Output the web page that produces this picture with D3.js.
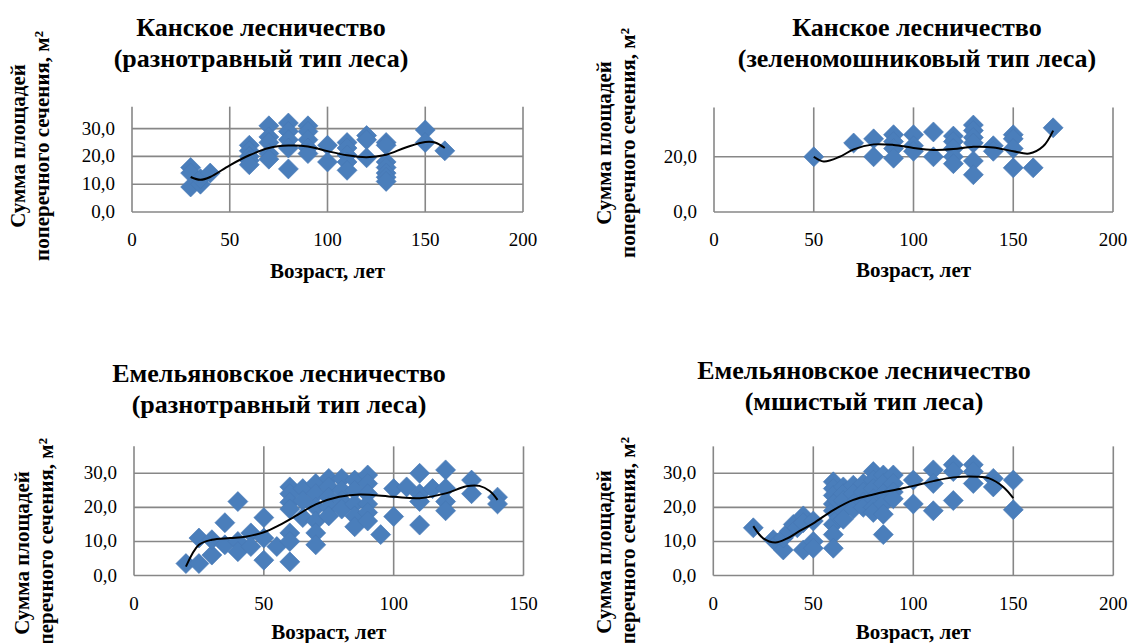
<!DOCTYPE html>
<html>
<head>
<meta charset="utf-8">
<title>Сумма площадей поперечного сечения</title>
<script src="https://d3js.org/d3.v7.min.js"></script>
<style>
  body { margin: 0; background: #fff; }
  svg text { font-family: "Liberation Serif", "Times New Roman", serif; fill: #000; }
</style>
</head>
<body>
<svg width="1134" height="643"></svg>
<script>
// ---- data: [age, sum of cross-section area] ----
var kanRazn = [[30,16],[30,14],[30,9],[35,10],[35,12],[40,14],
  [60,24],[60,22],[60,20],[60,18.5],[60,17],
  [70,31],[70,27],[70,25],[70,21],[70,19],
  [80,32],[80,29],[80,26],[80,23],[80,15.5],
  [90,31],[90,29],[90,26],[90,23],[90,21],
  [100,24],[100,18],
  [110,25],[110,23],[110,20.5],[110,18],[110,15],
  [120,27.5],[120,26],[120,19.5],
  [130,25],[130,24],[130,18],[130,16],[130,14],[130,12.5],[130,11],
  [150,29.5],[150,25],[160,22]];
var kanRaznTrend = [[30,12.6],[35,11.6],[40,12.6],[50,16.8],[60,20.4],[70,23],[80,23.9],[90,23.6],
  [100,21.9],[110,20.4],[120,19.7],[130,20.6],[140,23.2],[150,25.2],[155,25],[160,23]];

var kanZel = [[50,20],[70,25],[80,26.5],[80,20],[90,28],[90,25.5],[90,23],[90,19.5],
  [100,28],[100,24],[100,22],[110,29],[110,20],
  [120,27.5],[120,25.5],[120,23],[120,20],[120,17.5],
  [130,31.5],[130,29.5],[130,27],[130,25],[130,18.5],[130,13.5],
  [140,24],[140,22],[150,28],[150,26.5],[150,23],[150,16],[160,16],[170,30.5]];
var kanZelTrend = [[50,20],[55,18.3],[63,20],[70,22.7],[80,24.5],[90,24.3],[100,23.2],[110,22.5],
  [120,22.8],[130,23.6],[140,23.4],[150,22],[158,21.2],[165,23.8],[170,29.5]];

var emRazn = [[20,3.5],[25,3.5],[25,11],[30,6],[30,10.5],[35,15.5],[35,9],[40,21.7],[40,10],[40,7],
  [45,12.5],[45,8.5],[50,17],[50,11],[50,4.5],[55,8.5],
  [60,26],[60,24],[60,21.5],[60,19.5],[60,12.5],[60,10],[60,4],
  [65,25.5],[65,22],[65,17],
  [70,27],[70,24],[70,20],[70,16],[70,12.5],[70,9],
  [75,28.5],[75,26],[75,23],[75,20],[75,17.5],
  [80,28.5],[80,25],[80,22],[80,19.5],
  [85,28],[85,25],[85,21],[85,17.5],[85,14.3],
  [90,29.5],[90,27],[90,24],[90,21],[90,18.5],[90,16],
  [95,12],[100,25.5],[100,17.3],[105,26],[110,30],[110,24],[110,21.7],[110,14.8],[115,25.5],
  [120,31],[120,25.6],[120,21.7],[120,19],[130,28],[130,24],[140,23],[140,21]];
var emRaznTrend = [[20,2.6],[25,9],[30,10.5],[37,11],[43,11.4],[50,12.7],[56,14.8],[63,17.8],[70,20.9],
  [79,23.1],[87,23.8],[100,23.1],[110,22.7],[120,24.1],[128,26.2],[133,26.3],[137,24.8],[140,22.2]];

var emMsh = [[20,14],[30,10.5],[32,9.5],[35,7.5],[35,11],[38,13],[40,15],[42,14],[45,17.5],[45,15.5],[45,7.5],
  [50,16],[50,10],[50,8],
  [60,27.5],[60,25.5],[60,23.5],[60,21],[60,19],[60,15],[60,12],[60,8],[62,22],[63,17],
  [65,26],[65,24],[65,22],[65,19],[65,16.5],
  [70,26.5],[70,24],[70,21],[70,19.5],
  [75,27],[75,24.5],[75,21.5],[75,20],
  [80,30.5],[80,28],[80,25.5],[80,22.5],[80,20],[80,18.5],
  [85,29.5],[85,27],[85,24],[85,21],[85,18],[85,12],
  [90,29.5],[90,27],[90,24.5],[90,22.5],
  [100,28],[100,21],[110,31],[110,27],[110,19],[120,32.5],[120,30.5],[120,22],
  [130,32.5],[130,30.5],[130,27],[140,28.5],[140,26],[150,28],[150,19.3]];
var emMshTrend = [[20,14.5],[25,10.9],[31,9.7],[37,10.9],[43,13],[50,15.3],[60,19.2],[70,22.2],[80,23.8],
  [93,25.4],[100,26.3],[110,27.7],[120,28.8],[132,29],[138,28.5],[145,26],[150,22.7]];

var ticks200 = [0, 50, 100, 150, 200];
var ticks150 = [0, 50, 100, 150];
var yTicks10 = [0, 10, 20, 30];
var yTicks20 = [0, 20];

var yTitle = ["Сумма площадей", "поперечного сечения, м²"];
var xTitle = "Возраст, лет";

// ---- layout of the four panels ----
var panels = [
  { title: ["Канское лесничество", "(разнотравный тип леса)"], pts: kanRazn, trend: kanRaznTrend,
    xTicks: ticks200, yTicks: yTicks10, left: 132, right: 523, bottom: 212, unit: 2.78,
    titleX: 261, titleY: 36, yTitleX: 18, yTitleY: 146, xTitleY: 278 },
  { title: ["Канское лесничество", "(зеленомошниковый тип леса)"], pts: kanZel, trend: kanZelTrend,
    xTicks: ticks200, yTicks: yTicks20, left: 714, right: 1113, bottom: 212, unit: 2.76,
    titleX: 917, titleY: 36, yTitleX: 604, yTitleY: 143, xTitleY: 277 },
  { title: ["Емельяновское лесничество", "(разнотравный тип леса)"], pts: emRazn, trend: emRaznTrend,
    xTicks: ticks150, yTicks: yTicks10, left: 134, right: 523.5, bottom: 575.5, unit: 3.407,
    titleX: 279, titleY: 382, yTitleX: 22, yTitleY: 553, xTitleY: 639 },
  { title: ["Емельяновское лесничество", "(мшистый тип леса)"], pts: emMsh, trend: emMshTrend,
    xTicks: ticks200, yTicks: yTicks10, left: 713.3, right: 1113.3, bottom: 575.5, unit: 3.407,
    titleX: 864, titleY: 379, yTitleX: 604, yTitleY: 552, xTitleY: 639 }
];

var svg = d3.select("svg");
var gridColor = "#878787";
var markColor = "#4a7ebb";
var yMaxVal = 37.9;

panels.forEach(function(p) {
  var x = d3.scaleLinear()
    .domain([0, p.xTicks[p.xTicks.length - 1]])
    .range([p.left, p.right]);
  var y = d3.scaleLinear()
    .domain([0, yMaxVal])
    .range([p.bottom, p.bottom - yMaxVal * p.unit]);

  var g = svg.append("g");

  // horizontal grid
  g.selectAll(".hg").data(p.yTicks).enter().append("line")
    .attr("x1", p.left).attr("x2", p.right)
    .attr("y1", function(d) { return y(d); }).attr("y2", function(d) { return y(d); })
    .attr("stroke", gridColor).attr("stroke-width", 1.6);
  // vertical grid
  g.selectAll(".vg").data(p.xTicks).enter().append("line")
    .attr("x1", function(d) { return x(d); }).attr("x2", function(d) { return x(d); })
    .attr("y1", y(0)).attr("y2", y(yMaxVal))
    .attr("stroke", gridColor).attr("stroke-width", 1.6);

  // tick labels
  g.selectAll(".xl").data(p.xTicks).enter().append("text")
    .attr("x", function(d) { return x(d); })
    .attr("y", p.bottom + 34)
    .attr("text-anchor", "middle")
    .style("font-size", "19px")
    .text(function(d) { return d; });
  g.selectAll(".yl").data(p.yTicks).enter().append("text")
    .attr("x", p.left - 17)
    .attr("y", function(d) { return y(d) + 6; })
    .attr("text-anchor", "end")
    .style("font-size", "19px")
    .text(function(d) { return d.toFixed(1).replace(".", ","); });

  // markers
  var diamond = d3.symbol().type(d3.symbolSquare).size(200);
  g.selectAll(".pt").data(p.pts).enter().append("path")
    .attr("d", diamond)
    .attr("transform", function(d) { return "translate(" + x(d[0]) + "," + y(d[1]) + ") rotate(45)"; })
    .attr("fill", markColor)
    .attr("stroke", "#4779b5")
    .attr("stroke-width", 0.6);

  // trend line
  var line = d3.line()
    .x(function(d) { return x(d[0]); })
    .y(function(d) { return y(d[1]); })
    .curve(d3.curveCatmullRom.alpha(0.5));
  g.append("path").datum(p.trend)
    .attr("d", line)
    .attr("fill", "none")
    .attr("stroke", "#000")
    .attr("stroke-width", 2);

  // titles
  g.selectAll(".tt").data(p.title).enter().append("text")
    .attr("x", p.titleX)
    .attr("y", function(d, i) { return p.titleY + i * 31; })
    .attr("text-anchor", "middle")
    .style("font-size", "26px").style("font-weight", "bold")
    .text(function(d) { return d; });

  g.append("text")
    .attr("x", (p.left + p.right) / 2)
    .attr("y", p.xTitleY)
    .attr("text-anchor", "middle")
    .style("font-size", "21px").style("font-weight", "bold")
    .text(xTitle);

  g.selectAll(".yt").data(yTitle).enter().append("text")
    .attr("transform", function(d, i) {
      return "translate(" + (p.yTitleX + i * 24) + "," + p.yTitleY + ") rotate(-90)";
    })
    .attr("text-anchor", "middle")
    .attr("dominant-baseline", "central")
    .style("font-size", "21px").style("font-weight", "bold")
    .text(function(d) { return d; });
});
</script>
</body>
</html>
